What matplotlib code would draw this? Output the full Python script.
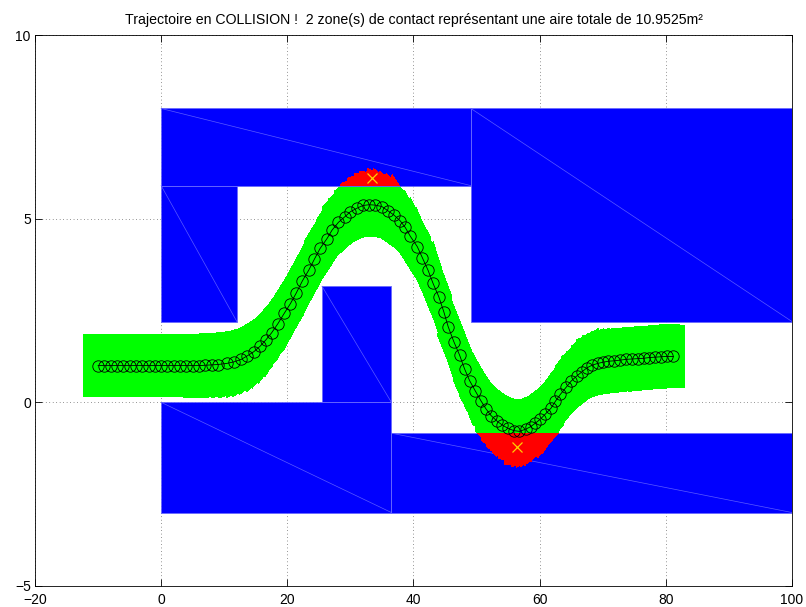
import numpy as np
import matplotlib
matplotlib.use('Agg')
import matplotlib.pyplot as plt
from matplotlib.collections import PolyCollection
from matplotlib.patches import Rectangle

plt.rcParams['font.family'] = ['Liberation Sans', 'DejaVu Sans']

# trajectoire (points marques par des cercles)
traj_x = [-10, -9, -8, -7, -6, -5, -4, -3, -2, -1, 0, 1, 2, 3, 4, 5, 6, 7, 8, 9,
          10.4, 11.5, 12.7, 13.6, 14.7, 15.7, 16.6, 17.5, 18.5, 19.5, 20.5, 21.4,
          22.4, 23.4, 24.3, 25.2, 26.3, 27.1, 28.1, 29.1, 30.0, 31.1, 32.0, 33.0,
          33.9, 35.0, 35.9, 36.9, 37.9, 38.7, 39.5, 40.6, 41.4, 42.3, 43.1, 44.0,
          44.8, 45.5, 46.4, 47.3, 48.1, 48.9, 49.8, 50.7, 51.5, 52.3, 53.3, 54.1,
          55.0, 55.9, 56.8, 57.8, 58.6, 59.3, 60.1, 60.9, 61.8, 62.5, 63.3, 64.2,
          65.0, 65.9, 66.7, 67.5, 68.3, 69.2, 70.0, 70.9, 71.8, 72.8, 73.7, 74.6,
          75.6, 76.5, 77.4, 78.3, 79.2, 80.2, 81.2]
traj_y = [1.0, 1.0, 1.0, 1.0, 1.0, 1.0, 1.0, 1.0, 1.0, 1.0, 1.0, 1.0, 1.0, 1.0,
          1.0, 1.0, 1.0, 1.01, 1.02, 1.03,
          1.06, 1.10, 1.17, 1.26, 1.38, 1.53, 1.70, 1.89, 2.14, 2.42, 2.69, 2.97,
          3.31, 3.60, 3.90, 4.19, 4.46, 4.69, 4.90, 5.05, 5.19, 5.29, 5.36, 5.38,
          5.37, 5.33, 5.22, 5.10, 4.94, 4.76, 4.52, 4.24, 3.94, 3.60, 3.24, 2.88,
          2.47, 2.06, 1.65, 1.29, 0.91, 0.59, 0.31, 0.04, -0.18, -0.36, -0.52, -0.62,
          -0.71, -0.77, -0.79, -0.73, -0.66, -0.57, -0.46, -0.32, -0.16, 0.03, 0.22, 0.41,
          0.58, 0.72, 0.83, 0.94, 1.01, 1.06, 1.09, 1.12, 1.13, 1.15, 1.17, 1.18,
          1.19, 1.20, 1.22, 1.23, 1.24, 1.25, 1.25]

# obstacles (rectangles) : x0, x1, y0, y1
obs_x0 = [0, 49.1, 0, 25.5, 0, 36.5]
obs_x1 = [49.1, 100, 12, 36.5, 36.5, 100]
obs_y0 = [5.9, 2.2, 2.2, 0, -3, -3]
obs_y1 = [8, 8, 5.9, 3.16, 0, -0.84]

# centres des zones de contact
coll_x = [33.4, 56.4]
coll_y = [6.10, -1.22]

title = u"Trajectoire en COLLISION !  2 zone(s) de contact repr\u00e9sentant une aire totale de 10.9525m\u00b2"

# gabarit du vehicule
veh = np.array([[-2.4, -0.86], [1.9, -0.86], [1.9, 0.86], [-2.4, 0.86]])

tx = np.array(traj_x)
ty = np.array(traj_y)
theta = np.arctan2(np.gradient(ty), np.gradient(tx))
polys = []
for xi, yi, th in zip(tx, ty, theta):
    c, s = np.cos(th), np.sin(th)
    px = xi + veh[:, 0] * c - veh[:, 1] * s
    py = yi + veh[:, 0] * s + veh[:, 1] * c
    polys.append(np.column_stack([px, py]))

fig = plt.figure(figsize=(8.06, 6.07), dpi=100)
ax = fig.add_axes([0.0434, 0.0346, 0.9392, 0.9077])

ax.add_collection(PolyCollection(polys, facecolors='#00ff00', edgecolors='none',
                                 antialiased=False, zorder=2))

for x0, x1, y0, y1 in zip(obs_x0, obs_x1, obs_y0, obs_y1):
    r = Rectangle((x0, y0), x1 - x0, y1 - y0, facecolor='#0000ff',
                  edgecolor='#6a6aff', linewidth=0.6, zorder=3)
    ax.add_patch(r)
    ax.plot([x0, x1], [y1, y0], color='#5a5aff', linewidth=0.5, zorder=3.1)
    red = PolyCollection(polys, facecolors='#ff0000', edgecolors='none',
                         antialiased=False, zorder=4)
    ax.add_collection(red)
    red.set_clip_path(Rectangle((x0, y0), x1 - x0, y1 - y0, transform=ax.transData))

ax.plot(tx, ty, '-o', color='black', linewidth=0.6, markersize=8.2,
        markerfacecolor='none', markeredgewidth=0.6, zorder=5)
ax.plot(coll_x, coll_y, 'x', color='#ffd000', markersize=7.5, markeredgewidth=0.9, zorder=6)

ax.set_xlim(-20, 100)
ax.set_ylim(-5, 10)
ax.set_xticks(np.arange(-20, 101, 20))
ax.set_yticks([-5, 0, 5, 10])
ax.set_axisbelow(True)
ax.grid(True, color='0.2', linestyle=(0, (1, 4)), linewidth=0.5)
ax.tick_params(direction='in', top=True, right=True, length=5, width=0.6,
               labelsize=10)
ax.tick_params(axis='x', pad=5)
ax.tick_params(axis='y', pad=3)
for sp in ax.spines.values():
    sp.set_linewidth(0.6)
ax.set_title(title, fontsize=10.2, pad=8)

fig.savefig('out.png', dpi=100)
